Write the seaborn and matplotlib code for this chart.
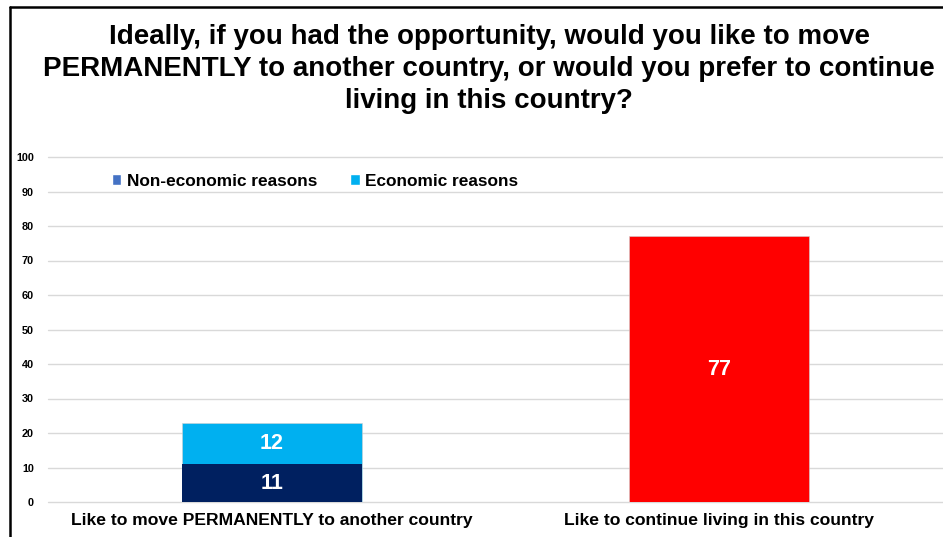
import matplotlib
matplotlib.use("Agg")
import matplotlib.pyplot as plt
from matplotlib.lines import Line2D
from matplotlib.patches import Patch
import seaborn as sns
import pandas as pd

categories = ["Like to move PERMANENTLY to another country",
              "Like to continue living in this country"]
non_economic = [11, 0]
economic = [12, 0]
stay = [0, 77]
legend_labels = ["Non-economic reasons", "Economic reasons"]
title = ("Ideally, if you had the opportunity, would you like to move\n"
         "PERMANENTLY to another country, or would you prefer to continue\n"
         "living in this country?")

NAVY = "#002060"
LIGHT_BLUE = "#00B0F0"
RED = "#FF0000"
LEGEND_BLUE = "#4472C4"

sns.set_theme(style="white")
plt.rcParams["font.family"] = ["Liberation Sans", "DejaVu Sans"]
plt.rcParams["font.weight"] = "bold"
plt.rcParams["text.color"] = "black"
plt.rcParams["xtick.color"] = "black"
plt.rcParams["ytick.color"] = "black"
plt.rcParams["xtick.labelcolor"] = "black"
plt.rcParams["ytick.labelcolor"] = "black"

df = pd.DataFrame({
    "category": categories,
    "non_economic": non_economic,
    "economic": economic,
    "stay": stay,
})
df["top"] = df["non_economic"] + df["economic"] + df["stay"]

fig = plt.figure(figsize=(9.43, 5.37), dpi=100)
W, H = 943, 537
ax = fig.add_axes([48 / W, 35 / H, 1 - 48 / W, (502 - 157) / H])

# Upper layer: full stack height, coloured per category
sns.barplot(data=df, x="category", y="top", hue="category",
            palette=[LIGHT_BLUE, RED], width=0.402, legend=False,
            ax=ax, zorder=2, saturation=1, edgecolor="#d0d0d0", linewidth=0.4)
# Lower layer: non-economic segment
sns.barplot(data=df, x="category", y="non_economic", color=NAVY,
            width=0.402, ax=ax, zorder=3, saturation=1, linewidth=0)

ax.set_xlim(-0.5, 1.5)
ax.set_ylim(0, 100)
ax.set_yticks(range(0, 101, 10))
ax.yaxis.grid(True, color="#D9D9D9", linewidth=1.0, zorder=0)
for gl in ax.get_ygridlines():
    gl.set_clip_on(False)
ax.set_axisbelow(True)
for s in ax.spines.values():
    s.set_visible(False)
ax.set_xlabel("")
ax.set_ylabel("")
ax.tick_params(axis="y", length=0, pad=10, labelsize=7.8)
ax.tick_params(axis="x", length=0, pad=8, labelsize=12.6)
for lab in ax.get_yticklabels() + ax.get_xticklabels():
    lab.set_fontweight("bold")
    lab.set_color("black")

# Value labels
lbl = dict(ha="center", va="center", color="white", fontsize=15.5,
           fontweight="bold", zorder=5)
ax.text(0, non_economic[0] / 2, str(non_economic[0]), **lbl)
ax.text(0, non_economic[0] + economic[0] / 2, str(economic[0]), **lbl)
ax.text(1, stay[1] / 2, str(stay[1]), **lbl)

# Title
fig.text(489 / W, 1 - 69 / H, title, ha="center", va="center",
         fontsize=20, fontweight="bold", linespacing=1.3, color="black")

# Legend
handles = [Patch(facecolor=LEGEND_BLUE), Patch(facecolor=LIGHT_BLUE)]
leg = fig.legend(handles, legend_labels, loc="center left",
                 bbox_to_anchor=(105 / W, 1 - 181 / H), ncol=2, frameon=False,
                 handlelength=0.55, handleheight=0.55,
                 handletextpad=0.3, columnspacing=1.95, borderaxespad=0,
                 prop={"weight": "bold", "size": 12.4})
for t in leg.get_texts():
    t.set_color("black")

# Outer frame (top and left edges)
fig.add_artist(Line2D([10 / W, 1], [1 - 7 / H, 1 - 7 / H], color="black",
                      linewidth=1.8, transform=fig.transFigure))
fig.add_artist(Line2D([10 / W, 10 / W], [0, 1 - 7 / H], color="black",
                      linewidth=1.8, transform=fig.transFigure))

fig.savefig("out.png", dpi=100, facecolor="white")
